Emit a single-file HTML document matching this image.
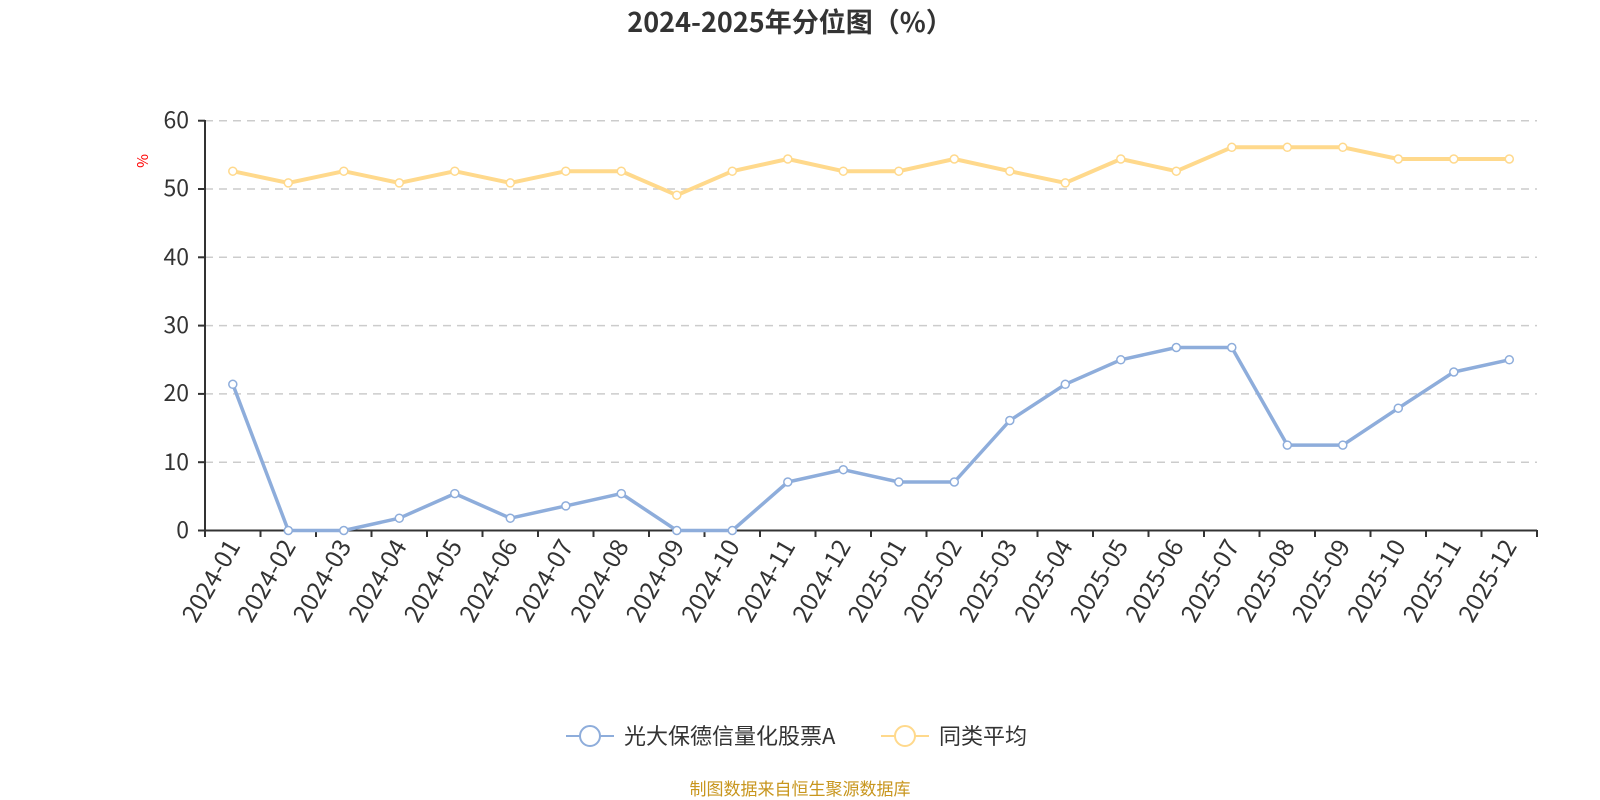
<!DOCTYPE html><html><head><meta charset="utf-8"><style>body{margin:0;background:#fff}svg{display:block}text{font-family:"Noto Sans CJK SC","Liberation Sans",sans-serif}</style></head><body>
<svg width="1600" height="800" xmlns="http://www.w3.org/2000/svg">
<text x="790" y="32" text-anchor="middle" font-size="27" font-weight="bold" fill="#333">2024-2025年分位图（%）</text>
<g stroke="#ccc" stroke-width="1.5" stroke-dasharray="8,6">
<line x1="205" x2="1537" y1="120.7" y2="120.7"/><line x1="205" x2="1537" y1="189" y2="189"/><line x1="205" x2="1537" y1="257.3" y2="257.3"/><line x1="205" x2="1537" y1="325.6" y2="325.6"/><line x1="205" x2="1537" y1="393.9" y2="393.9"/><line x1="205" x2="1537" y1="462.2" y2="462.2"/></g>
<g stroke="#333" stroke-width="2"><line x1="205" y1="120" x2="205" y2="531"/><line x1="204" y1="530.5" x2="1537" y2="530.5"/>
<line x1="198" x2="205" y1="120.7" y2="120.7"/><line x1="198" x2="205" y1="189" y2="189"/><line x1="198" x2="205" y1="257.3" y2="257.3"/><line x1="198" x2="205" y1="325.6" y2="325.6"/><line x1="198" x2="205" y1="393.9" y2="393.9"/><line x1="198" x2="205" y1="462.2" y2="462.2"/><line x1="198" x2="205" y1="530.5" y2="530.5"/>
<path d="M205 530v7M260.5 530v7M316 530v7M371.5 530v7M427 530v7M482.5 530v7M538 530v7M593.5 530v7M649 530v7M704.5 530v7M760 530v7M815.5 530v7M871 530v7M926.5 530v7M982 530v7M1037.5 530v7M1093 530v7M1148.5 530v7M1204 530v7M1259.5 530v7M1315 530v7M1370.5 530v7M1426 530v7M1481.5 530v7M1537 530v7"/></g>
<g font-size="23" fill="#333" text-anchor="end"><text x="189" y="128">60</text><text x="189" y="196">50</text><text x="189" y="265">40</text><text x="189" y="333">30</text><text x="189" y="401">20</text><text x="189" y="470">10</text><text x="189" y="538">0</text></g>
<text x="148" y="161" font-size="15" fill="red" transform="rotate(-90 148 161)" text-anchor="middle">%</text>
<g font-size="24.5" fill="#333" text-anchor="end">
<text transform="translate(241,546) rotate(-60)">2024-01</text><text transform="translate(296.5,546) rotate(-60)">2024-02</text><text transform="translate(352,546) rotate(-60)">2024-03</text><text transform="translate(407.5,546) rotate(-60)">2024-04</text><text transform="translate(463,546) rotate(-60)">2024-05</text><text transform="translate(518.5,546) rotate(-60)">2024-06</text><text transform="translate(574,546) rotate(-60)">2024-07</text><text transform="translate(629.5,546) rotate(-60)">2024-08</text><text transform="translate(685,546) rotate(-60)">2024-09</text><text transform="translate(740.5,546) rotate(-60)">2024-10</text><text transform="translate(796,546) rotate(-60)">2024-11</text><text transform="translate(851.5,546) rotate(-60)">2024-12</text><text transform="translate(907,546) rotate(-60)">2025-01</text><text transform="translate(962.5,546) rotate(-60)">2025-02</text><text transform="translate(1018,546) rotate(-60)">2025-03</text><text transform="translate(1073.5,546) rotate(-60)">2025-04</text><text transform="translate(1129,546) rotate(-60)">2025-05</text><text transform="translate(1184.5,546) rotate(-60)">2025-06</text><text transform="translate(1240,546) rotate(-60)">2025-07</text><text transform="translate(1295.5,546) rotate(-60)">2025-08</text><text transform="translate(1351,546) rotate(-60)">2025-09</text><text transform="translate(1406.5,546) rotate(-60)">2025-10</text><text transform="translate(1462,546) rotate(-60)">2025-11</text><text transform="translate(1517.5,546) rotate(-60)">2025-12</text></g>
<polyline fill="none" stroke="#ffd98c" stroke-width="4" stroke-linejoin="round" points="232.8,171.2 288.3,182.9 343.8,171.2 399.3,182.9 454.8,171.2 510.3,182.9 565.8,171.2 621.3,171.2 676.8,195.2 732.3,171.2 787.8,159 843.3,171.2 898.8,171.2 954.3,159 1009.8,171.2 1065.3,182.9 1120.8,159 1176.3,171.2 1231.8,147.3 1287.3,147.3 1342.8,147.3 1398.3,159 1453.8,159 1509.3,159"/>
<polyline fill="none" stroke="#8eaddb" stroke-width="3.5" stroke-linejoin="round" points="232.8,384.3 288.3,530.5 343.8,530.5 399.3,518.2 454.8,493.6 510.3,518.2 565.8,505.9 621.3,493.6 676.8,530.5 732.3,530.5 787.8,482 843.3,469.7 898.8,482 954.3,482 1009.8,420.5 1065.3,384.3 1120.8,359.8 1176.3,347.5 1231.8,347.5 1287.3,445.1 1342.8,445.1 1398.3,408.2 1453.8,372 1509.3,359.8"/>
<g fill="#fff" stroke="#ffd98c" stroke-width="1.5">
<circle cx="232.8" cy="171.2" r="4"/><circle cx="288.3" cy="182.9" r="4"/><circle cx="343.8" cy="171.2" r="4"/><circle cx="399.3" cy="182.9" r="4"/><circle cx="454.8" cy="171.2" r="4"/><circle cx="510.3" cy="182.9" r="4"/><circle cx="565.8" cy="171.2" r="4"/><circle cx="621.3" cy="171.2" r="4"/><circle cx="676.8" cy="195.2" r="4"/><circle cx="732.3" cy="171.2" r="4"/><circle cx="787.8" cy="159" r="4"/><circle cx="843.3" cy="171.2" r="4"/><circle cx="898.8" cy="171.2" r="4"/><circle cx="954.3" cy="159" r="4"/><circle cx="1009.8" cy="171.2" r="4"/><circle cx="1065.3" cy="182.9" r="4"/><circle cx="1120.8" cy="159" r="4"/><circle cx="1176.3" cy="171.2" r="4"/><circle cx="1231.8" cy="147.3" r="4"/><circle cx="1287.3" cy="147.3" r="4"/><circle cx="1342.8" cy="147.3" r="4"/><circle cx="1398.3" cy="159" r="4"/><circle cx="1453.8" cy="159" r="4"/><circle cx="1509.3" cy="159" r="4"/></g>
<g fill="#fff" stroke="#8eaddb" stroke-width="1.5">
<circle cx="232.8" cy="384.3" r="4"/><circle cx="288.3" cy="530.5" r="4"/><circle cx="343.8" cy="530.5" r="4"/><circle cx="399.3" cy="518.2" r="4"/><circle cx="454.8" cy="493.6" r="4"/><circle cx="510.3" cy="518.2" r="4"/><circle cx="565.8" cy="505.9" r="4"/><circle cx="621.3" cy="493.6" r="4"/><circle cx="676.8" cy="530.5" r="4"/><circle cx="732.3" cy="530.5" r="4"/><circle cx="787.8" cy="482" r="4"/><circle cx="843.3" cy="469.7" r="4"/><circle cx="898.8" cy="482" r="4"/><circle cx="954.3" cy="482" r="4"/><circle cx="1009.8" cy="420.5" r="4"/><circle cx="1065.3" cy="384.3" r="4"/><circle cx="1120.8" cy="359.8" r="4"/><circle cx="1176.3" cy="347.5" r="4"/><circle cx="1231.8" cy="347.5" r="4"/><circle cx="1287.3" cy="445.1" r="4"/><circle cx="1342.8" cy="445.1" r="4"/><circle cx="1398.3" cy="408.2" r="4"/><circle cx="1453.8" cy="372" r="4"/><circle cx="1509.3" cy="359.8" r="4"/></g>
<line x1="566" x2="614" y1="736" y2="736" stroke="#8eaddb" stroke-width="2"/><circle cx="590" cy="736" r="10" fill="#fff" stroke="#8eaddb" stroke-width="2"/>
<text x="624" y="744" font-size="22" fill="#333">光大保德信量化股票A</text>
<line x1="881" x2="929" y1="736" y2="736" stroke="#ffd98c" stroke-width="2"/><circle cx="905" cy="736" r="10" fill="#fff" stroke="#ffd98c" stroke-width="2"/>
<text x="939" y="744" font-size="22" fill="#333">同类平均</text>
<text x="800" y="795" font-size="17" fill="#c8961e" text-anchor="middle">制图数据来自恒生聚源数据库</text>
</svg></body></html>
